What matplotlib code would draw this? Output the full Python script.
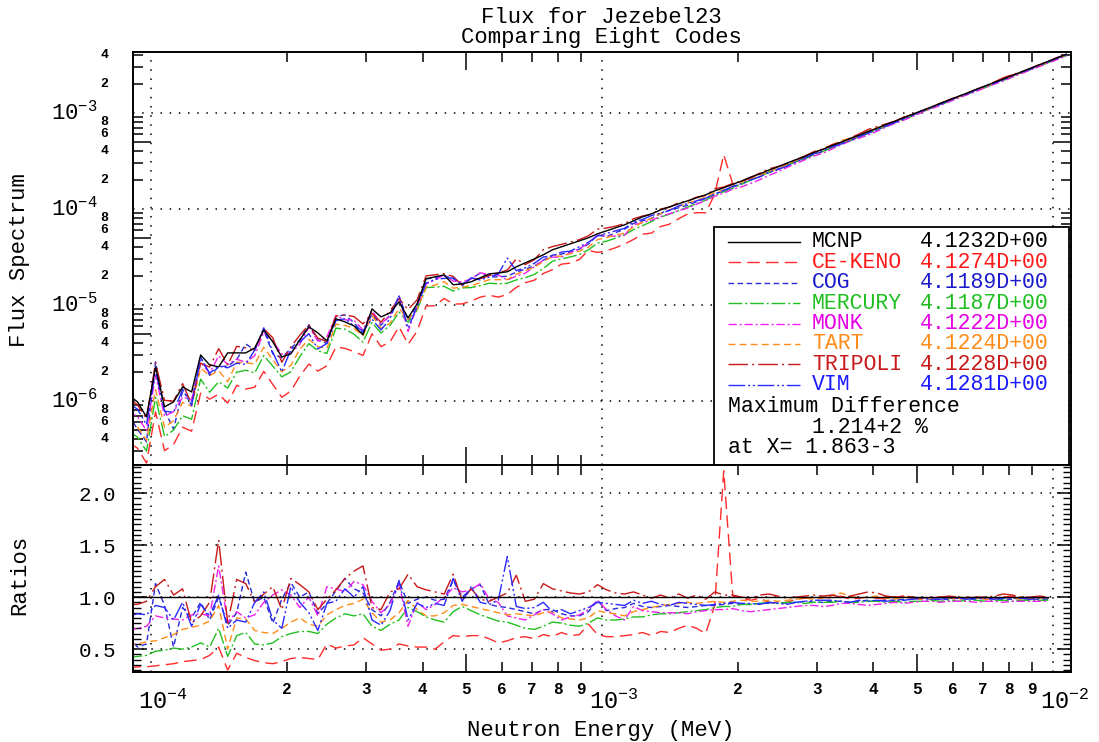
"""Jezebel23 flux spectrum for eight transport codes.

Top panel: flux spectrum (log-log), bottom panel: ratio of each code to MCNP.
Writes out.png.
"""
import matplotlib
matplotlib.use("Agg")
import matplotlib.pyplot as plt
import matplotlib.transforms as mtransforms
import numpy as np
from matplotlib.patches import Rectangle
from matplotlib.ticker import FixedLocator, MultipleLocator, NullFormatter

plt.rcParams["font.family"] = ["Liberation Mono", "DejaVu Sans Mono"]

# 50 groups per decade (group midpoints), last two only in the flux panel
energy = 10.0 ** np.linspace(-4.05, -1.97, 105)
N_RATIO = 103

mcnp_flux = [
    1.155e-6, 9.76e-7, 6.81e-7, 2.26e-6, 8.66e-7, 9.76e-7, 1.40e-6, 1.24e-6,
    3.01e-6, 2.37e-6, 2.26e-6, 3.16e-6, 3.16e-6, 3.16e-6, 3.56e-6, 5.49e-6,
    4.12e-6, 2.87e-6, 3.09e-6, 4.32e-6, 5.90e-6, 5.11e-6, 4.22e-6, 7.15e-6,
    6.65e-6, 6.04e-6, 4.87e-6, 9.08e-6, 7.50e-6, 8.25e-6, 1.075e-5, 7.32e-6,
    1.024e-5, 1.87e-5, 1.96e-5, 2.05e-5, 1.62e-5, 1.65e-5, 1.74e-5, 1.91e-5,
    2.10e-5, 2.15e-5, 2.21e-5, 2.49e-5, 2.74e-5, 3.01e-5, 3.32e-5, 3.74e-5,
    4.02e-5, 4.32e-5, 4.64e-5, 4.99e-5, 5.49e-5, 5.90e-5, 6.34e-5, 6.81e-5,
    7.50e-5, 8.25e-5, 8.87e-5, 9.76e-5, 1.049e-4, 1.127e-4, 1.211e-4, 1.302e-4,
    1.40e-4, 1.54e-4, 1.655e-4, 1.80e-4, 1.95e-4, 2.14e-4, 2.31e-4, 2.53e-4,
    2.73e-4, 2.99e-4, 3.25e-4, 3.52e-4, 3.86e-4, 4.17e-4, 4.56e-4, 4.93e-4,
    5.40e-4, 5.84e-4, 6.38e-4, 6.90e-4, 7.58e-4, 8.18e-4, 8.95e-4, 9.68e-4,
    1.058e-3, 1.147e-3, 1.252e-3, 1.358e-3, 1.482e-3, 1.608e-3, 1.752e-3,
    1.905e-3, 2.072e-3, 2.248e-3, 2.452e-3, 2.665e-3, 2.903e-3, 3.158e-3,
    3.442e-3, 3.738e-3, 4.072e-3,
]

ce_keno_ratio = [
    0.32, 0.33, 0.33, 0.34, 0.35, 0.36, 0.38, 0.39, 0.40, 0.44, 0.52, 0.30,
    0.46, 0.42, 0.39, 0.37, 0.36, 0.38, 0.41, 0.42,
    0.41, 0.40, 0.55, 0.51, 0.53, 0.54, 0.61, 0.55, 0.49, 0.50, 0.55, 0.53,
    0.52, 0.52, 0.50, 0.57, 0.63, 0.62, 0.63,
    0.63, 0.60, 0.56, 0.58, 0.61, 0.62, 0.60, 0.64, 0.62, 0.66, 0.63, 0.64,
    0.74, 0.64, 0.62, 0.62, 0.63, 0.64,
    0.66, 0.63, 0.67, 0.66, 0.70, 0.73, 0.70, 0.65, 0.92, 2.214, 1.01, 0.99,
    0.97, 0.99, 0.95, 0.94, 0.95, 0.98, 0.99, 1.00,
    1.00, 0.99, 1.01, 0.98, 0.99, 1.00, 0.99, 0.98, 1.00, 1.01, 0.99, 0.98,
    0.99, 1.00, 0.99, 0.99, 1.00, 0.99, 0.98, 0.99, 1.00, 1.01, 0.99, 0.98,
    1.00, 0.99, 1.00, 0.99,
]
cog_ratio = [
    0.62, 0.52, 0.55, 1.13, 0.92, 0.52, 0.90, 0.80, 0.95, 0.78, 1.00, 0.73,
    0.85, 1.24, 0.95, 1.00, 0.75, 0.98, 1.14, 1.00,
    1.05, 0.84, 0.94, 1.06, 1.18, 1.08, 1.04, 0.88, 0.82, 0.95, 1.15, 0.94,
    0.98, 1.00, 0.97, 0.98, 1.16, 1.00, 1.08,
    1.12, 0.93, 0.91, 0.90, 0.88, 0.86, 0.84, 0.88, 0.88, 0.84, 0.82, 0.82,
    0.86, 0.97, 0.87, 0.89, 0.90, 0.94,
    0.91, 0.90, 0.91, 0.92, 0.91, 0.90, 0.91, 0.92, 0.92, 0.93, 0.94, 0.93,
    0.93, 0.94, 0.94, 0.95, 0.94, 0.95, 0.96, 0.95,
    0.95, 0.96, 0.96, 0.95, 0.96, 0.97, 0.96, 0.97, 0.97, 0.98, 0.98, 0.99,
    0.98, 0.98, 0.98, 0.99, 0.98, 0.98, 0.99, 0.98, 0.98, 0.98, 0.99, 0.98,
    0.98, 0.98, 0.98, 0.98,
]
mercury_ratio = [
    0.42, 0.43, 0.44, 0.48, 0.49, 0.51, 0.50, 0.52, 0.56, 0.52, 0.70, 0.43,
    0.63, 0.66, 0.55, 0.54, 0.56, 0.62, 0.65, 0.67,
    0.67, 0.65, 0.74, 0.80, 0.84, 0.82, 0.84, 0.72, 0.68, 0.74, 0.78, 0.90,
    0.86, 0.81, 0.78, 0.76, 0.86, 0.91, 0.87,
    0.83, 0.80, 0.77, 0.76, 0.73, 0.70, 0.69, 0.72, 0.76, 0.75, 0.73, 0.72,
    0.75, 0.80, 0.78, 0.78, 0.79, 0.81,
    0.81, 0.83, 0.84, 0.84, 0.85, 0.86, 0.87, 0.88, 0.90, 0.91, 0.91, 0.93,
    0.93, 0.94, 0.95, 0.94, 0.95, 0.95, 0.94, 0.95,
    0.95, 0.95, 0.96, 0.95, 0.95, 0.96, 0.96, 0.95, 0.96, 0.95, 0.96, 0.96,
    0.97, 0.96, 0.97, 0.96, 0.97, 0.97, 0.96, 0.97, 0.97, 0.96, 0.97, 0.97,
    0.97, 0.97, 0.97, 0.97,
]
monk_ratio = [
    0.68, 0.70, 0.72, 0.82, 0.80, 0.79, 0.78, 0.83, 0.84, 0.82, 1.30, 0.76,
    0.86, 0.80, 0.83, 0.95, 1.02, 1.07, 1.02, 0.90,
    1.00, 0.82, 1.10, 1.08, 1.05, 1.15, 1.12, 0.96, 0.85, 0.93, 1.13, 0.72,
    0.95, 0.88, 0.93, 1.00, 1.09, 1.05, 1.07,
    1.13, 0.98, 0.95, 0.82, 0.80, 0.78, 0.83, 0.88, 0.84, 0.78, 0.81, 0.83,
    0.88, 0.97, 0.88, 0.82, 0.78, 0.91,
    0.87, 0.86, 0.85, 0.85, 0.85, 0.84, 0.86, 0.87, 0.88, 0.88, 0.89, 0.87,
    0.86, 0.87, 0.88, 0.89, 0.90, 0.91, 0.92, 0.92,
    0.91, 0.92, 0.94, 0.94, 0.93, 0.92, 0.93, 0.94, 0.95, 0.94, 0.95, 0.96,
    0.96, 0.95, 0.96, 0.96, 0.96, 0.95, 0.96, 0.96, 0.95, 0.96, 0.96, 0.96,
    0.96, 0.96, 0.96, 0.96,
]
tart_ratio = [
    0.54, 0.55, 0.57, 0.58, 0.61, 0.64, 0.69, 0.71, 0.73, 0.77, 0.92, 0.50,
    0.80, 0.79, 0.68, 0.66, 0.65, 0.70, 0.76, 0.80,
    0.74, 0.72, 0.83, 0.88, 0.92, 0.94, 0.98, 0.85, 0.76, 0.78, 0.85, 0.97,
    0.88, 0.82, 0.82, 0.85, 0.92, 0.93, 0.91,
    0.89, 0.87, 0.85, 0.83, 0.84, 0.83, 0.82, 0.85, 0.86, 0.80, 0.79, 0.78,
    0.80, 0.87, 0.85, 0.84, 0.82, 0.86,
    0.88, 0.90, 0.92, 0.93, 0.94, 0.95, 0.94, 0.95, 0.96, 0.95, 0.96, 0.97,
    0.96, 0.96, 0.97, 0.96, 0.97, 0.98, 0.99, 0.98,
    0.99, 1.02, 1.04, 1.01, 0.99, 1.00, 1.01, 0.99, 0.98, 1.00, 0.99, 0.98,
    0.99, 1.00, 0.99, 0.98, 0.99, 0.99, 0.98, 0.99, 1.00, 0.99, 0.98, 0.99,
    0.99, 0.99, 0.99, 0.99,
]
tripoli_ratio = [
    0.93, 0.93, 0.96, 1.10, 1.17, 1.02, 1.08, 0.75, 0.82, 0.95, 1.55, 0.75,
    1.17, 1.13, 0.95, 1.03, 1.10, 0.88, 1.18, 1.12,
    1.05, 0.88, 0.98, 1.07, 1.18, 1.25, 1.30, 0.90, 0.88, 1.05, 1.08, 1.22,
    1.10, 1.07, 1.05, 1.03, 1.22, 0.97, 1.08,
    0.98, 0.96, 1.00, 1.04, 1.21, 0.96, 0.98, 1.13, 1.08, 1.06, 1.04, 1.03,
    1.05, 1.12, 1.07, 1.04, 1.03, 1.05,
    1.02, 0.99, 1.02, 0.99, 1.03, 0.99, 1.02, 0.98, 1.05, 1.02, 1.02, 1.00,
    0.99, 1.02, 1.03, 1.01, 0.99, 1.00, 1.01, 1.02,
    1.01, 1.02, 1.00, 1.01, 1.03, 1.05, 1.04, 1.01, 1.00, 1.01, 1.00, 0.99,
    1.00, 1.00, 1.01, 1.00, 0.99, 1.00, 1.00, 1.01, 1.03, 1.02, 1.00, 1.00,
    1.01, 1.00, 1.01, 1.00,
]
vim_ratio = [
    0.82, 0.84, 0.83, 0.92, 0.90, 0.78, 0.95, 0.72, 0.93, 0.82, 1.02, 0.70,
    0.78, 0.76, 0.95, 1.05, 0.78, 0.70, 1.10, 0.95,
    0.85, 0.68, 0.94, 0.96, 1.08, 1.00, 1.10, 0.78, 0.73, 0.87, 1.16, 0.78,
    0.94, 0.90, 0.94, 0.92, 1.18, 0.96, 1.10,
    0.95, 0.93, 0.97, 1.39, 0.91, 0.89, 0.90, 0.95, 0.86, 0.88, 0.84, 0.87,
    0.90, 0.95, 0.94, 0.93, 0.92, 0.97,
    0.94, 0.96, 0.93, 0.92, 0.95, 0.94, 0.93, 0.92, 0.93, 0.94, 0.95, 0.94,
    0.94, 0.93, 0.95, 0.94, 0.93, 0.95, 0.96, 0.97,
    0.97, 0.97, 0.96, 0.95, 0.97, 0.96, 0.97, 0.96, 0.97, 0.97, 0.98, 0.99,
    0.98, 0.98, 0.99, 0.99, 0.98, 0.99, 0.99, 0.98, 0.99, 0.99, 0.99, 0.98,
    0.99, 0.99, 0.99, 0.99,
]
mcnp_ratio = [1.0] * len(mcnp_flux)

code_names = ["MCNP", "CE-KENO", "COG", "MERCURY", "MONK", "TART", "TRIPOLI", "VIM"]
code_integrals = [
    "4.1232D+00", "4.1274D+00", "4.1189D+00", "4.1187D+00",
    "4.1222D+00", "4.1224D+00", "4.1228D+00", "4.1281D+00",
]
code_ratios = [mcnp_ratio, ce_keno_ratio, cog_ratio, mercury_ratio,
               monk_ratio, tart_ratio, tripoli_ratio, vim_ratio]

# Styles: line colour, text colour, dash pattern
_LINE_COLORS = ["black", "#ff2a2a", "#2a2ad8", "#22c022", "#f020f0",
                "#ff8c1a", "#c81818", "#2a2aff"]
_TEXT_COLORS = ["black", "#ff1a1a", "#1a1acc", "#1fbf1f", "#e600e6",
                "#ff8c1a", "#c81818", "#1a1aff"]
_DASHES = [None, (9, 4.5), (4, 2.5), (10, 2, 1.5, 2), (6, 2, 1.5, 2),
           (5, 3), (14, 3, 1.5, 3), (12, 2, 1.5, 2, 1.5, 2)]

DOT = (0, (1, 5))
X_MIN, X_MAX = 10 ** -4.04, 10 ** -1.96


def _log_x_ticks(ax):
    fives = [5e-4, 5e-3]
    others = [m * 10.0 ** e for e in (-4, -3) for m in (2, 3, 4, 6, 7, 8, 9)]
    ax.xaxis.set_major_locator(FixedLocator(fives))
    ax.xaxis.set_minor_locator(FixedLocator(others))
    ax.xaxis.set_major_formatter(NullFormatter())
    ax.xaxis.set_minor_formatter(NullFormatter())
    ax.tick_params(axis="x", which="major", direction="in", length=13,
                   width=1.1, top=True, bottom=True)
    ax.tick_params(axis="x", which="minor", direction="in", length=7,
                   width=1.1, top=True, bottom=True)
    for e in (-4, -3, -2):
        ax.axvline(10.0 ** e, color="black", lw=1.1, ls=DOT, zorder=1)


def _frame(ax):
    for sp in ax.spines.values():
        sp.set_linewidth(1.4)


fig = plt.figure(figsize=(10.99, 7.42), dpi=100)
ax1 = fig.add_axes([0.121, 0.3733, 0.8535, 0.5567])
ax2 = fig.add_axes([0.121, 0.0943, 0.8535, 0.279])

mcnp = np.array(mcnp_flux)

# ── Flux panel ──────────────────────────────────────────────
for name, ratio, lc, dash in zip(code_names, code_ratios, _LINE_COLORS, _DASHES):
    flux = mcnp * np.array(ratio)
    line, = ax1.plot(energy, flux, color=lc, lw=1.0, zorder=3 if name == "MCNP" else 2)
    if dash is not None:
        line.set_dashes(dash)

ax1.set_xscale("log")
ax1.set_yscale("log")
ax1.set_xlim(X_MIN, X_MAX)
ax1.set_ylim(2.15e-7, 4.3e-3)
_log_x_ticks(ax1)
ax1.yaxis.set_major_locator(FixedLocator([5.0 * 10.0 ** e for e in range(-7, -2)]))
ax1.yaxis.set_minor_locator(FixedLocator(
    [m * 10.0 ** e for e in range(-7, -2) for m in (2, 3, 4, 6, 7, 8, 9)]))
ax1.yaxis.set_major_formatter(NullFormatter())
ax1.yaxis.set_minor_formatter(NullFormatter())
ax1.tick_params(axis="y", which="major", direction="in", length=13, width=1.1,
                left=True, right=True)
ax1.tick_params(axis="y", which="minor", direction="in", length=7, width=1.1,
                left=True, right=True)
for e in range(-6, -2):
    ax1.axhline(10.0 ** e, color="black", lw=1.1, ls=DOT, zorder=1)
_frame(ax1)

ytr = ax1.get_yaxis_transform()
for e in range(-6, -2):
    ax1.text(-0.038, 10.0 ** e, r"$\mathregular{10^{%d}}$" % e, transform=ytr,
             ha="right", va="center", fontsize=16)
    for m in (2, 4, 6, 8):
        v = m * 10.0 ** e
        if v < 4.3e-3:
            ax1.text(-0.026, v, str(m), transform=ytr, ha="right", va="center",
                     fontsize=9.5, fontweight="bold")
for m in (4, 6, 8):
    ax1.text(-0.026, m * 1e-7, str(m), transform=ytr, ha="right", va="center",
             fontsize=9.5, fontweight="bold")

# legend box with integrals
ax1.add_patch(Rectangle((0.619, 0.0), 0.379, 0.576, transform=ax1.transAxes,
                        facecolor="white", edgecolor="black", lw=1.3, zorder=5))
row_y = [0.540, 0.491, 0.441, 0.392, 0.342, 0.293, 0.244, 0.194]
for yy, name, val, lc, tc, dash in zip(row_y, code_names, code_integrals,
                                       _LINE_COLORS, _TEXT_COLORS, _DASHES):
    line, = ax1.plot([0.634, 0.711], [yy, yy], transform=ax1.transAxes,
                     color=lc, lw=1.0, zorder=6)
    if dash is not None:
        line.set_dashes(dash)
    ax1.text(0.724, yy, name, transform=ax1.transAxes, color=tc, fontsize=15.5,
             va="center", ha="left", zorder=6)
    ax1.text(0.839, yy, val, transform=ax1.transAxes, color=tc, fontsize=15.5,
             va="center", ha="left", zorder=6)
ax1.text(0.634, 0.142, "Maximum Difference", transform=ax1.transAxes,
         fontsize=15.5, va="center", zorder=6)
ax1.text(0.724, 0.092, "1.214+2 %", transform=ax1.transAxes,
         fontsize=15.5, va="center", zorder=6)
ax1.text(0.634, 0.042, "at X= 1.863-3", transform=ax1.transAxes,
         fontsize=15.5, va="center", zorder=6)

# ── Ratio panel ─────────────────────────────────────────────
for name, ratio, lc, dash in zip(code_names, code_ratios, _LINE_COLORS, _DASHES):
    line, = ax2.plot(energy[:N_RATIO], ratio[:N_RATIO], color=lc, lw=1.0,
                     zorder=3 if name == "MCNP" else 2)
    if dash is not None:
        line.set_dashes(dash)

ax2.set_xscale("log")
ax2.set_xlim(X_MIN, X_MAX)
ax2.set_ylim(0.28, 2.27)
_log_x_ticks(ax2)
ax2.set_yticks([0.5, 1.0, 1.5, 2.0])
ax2.set_yticklabels(["0.5", "1.0", "1.5", "2.0"], fontsize=15)
ax2.yaxis.set_minor_locator(MultipleLocator(0.05))
ax2.tick_params(axis="y", which="major", direction="in", length=10, width=1.1,
                left=True, right=True, pad=12)
ax2.tick_params(axis="y", which="minor", direction="in", length=6, width=1.0,
                left=True, right=True)
for v in (0.5, 1.0, 1.5, 2.0):
    ax2.axhline(v, color="black", lw=1.1, ls=DOT, zorder=1)
_frame(ax2)

xtr = ax2.get_xaxis_transform()
for e in (-4, -3):
    for m in range(2, 10):
        ax2.text(m * 10.0 ** e, -0.05, str(m), transform=xtr, ha="center",
                 va="top", fontsize=11.5, fontweight="bold")
# decade labels sit a little lower and start just left of the grid line
dec_tr = mtransforms.offset_copy(xtr, fig=fig, x=-13, y=0, units="dots")
for e in (-4, -3, -2):
    ax2.text(10.0 ** e, -0.085, r"$\mathregular{10^{%d}}$" % e, transform=dec_tr,
             ha="left", va="top", fontsize=17)

# ── Titles and axis labels ─────────────────────────────────
fig.text(0.547, 0.977, "Flux for Jezebel23", ha="center", va="center", fontsize=16)
fig.text(0.547, 0.950, "Comparing Eight Codes", ha="center", va="center", fontsize=16)
fig.text(0.018, 0.650, "Flux Spectrum", rotation=90, ha="center", va="center",
         fontsize=16)
fig.text(0.018, 0.225, "Ratios", rotation=90, ha="center", va="center", fontsize=16)
fig.text(0.547, 0.016, "Neutron Energy (MeV)", ha="center", va="center", fontsize=16)

fig.savefig("out.png", dpi=100)
